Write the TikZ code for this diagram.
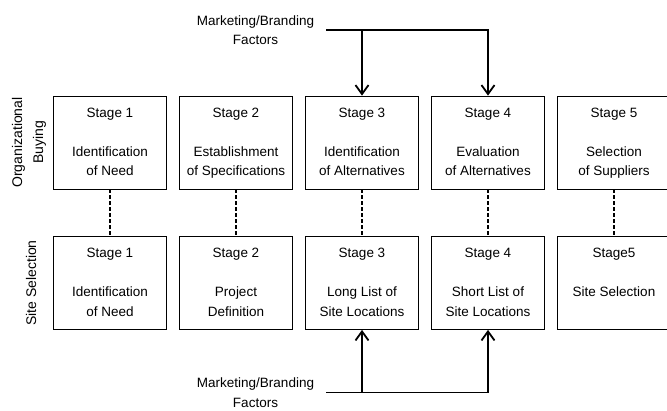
\documentclass[tikz,border=0pt]{standalone}
\usepackage{fontspec}
\setmainfont{Liberation Sans}
\usetikzlibrary{arrows.meta, positioning, calc}

\begin{document}
\begin{tikzpicture}[x=1pt, y=-1pt, font=\fontsize{13.5}{19.5}\selectfont,
    stagebox/.style={draw, line width=0.8pt, minimum width=113pt, minimum height=93pt, inner sep=0pt},
    stagetext/.style={align=center, anchor=north, inner sep=0pt, yshift=-12pt},
    linkdash/.style={line width=1.8pt, dash pattern=on 4pt off 2pt},
    flow/.style={line width=1.8pt, -{Straight Barb[length=9pt, width=13pt, line width=1.8pt]}},
    mktlabel/.style={align=center, inner ysep=0pt, inner xsep=12pt},
    rowlabel/.style={align=center, rotate=90, inner sep=0pt, font=\fontsize{14}{21}\selectfont}]
    \useasboundingbox (0,0) rectangle (667,410);
        \foreach \i/\sa/\sb/\db in {
            1/{Identification\\of Need}/{Stage 1}/{Identification\\of Need},
            2/{Establishment\\of Specifications}/{Stage 2}/{Project\\Definition},
            3/{Identification\\of Alternatives}/{Stage 3}/{Long List of\\Site Locations},
            4/{Evaluation\\of Alternatives}/{Stage 4}/{Short List of\\Site Locations},
            5/{Selection\\of Suppliers}/{Stage5}/{Site Selection}}
        {
            \pgfmathsetmacro{\x}{110+(\i-1)*126}
            \node[stagebox] (ob\i) at (\x,142.5) {};
            \node[stagebox] (ss\i) at (\x,283) {};
            \node[stagetext] (obt\i) at (ob\i.north) {Stage \i\\[19.5pt]\sa};
            \node[stagetext] (sst\i) at (ss\i.north) {\sb\\[19.5pt]\db};
            \draw[linkdash] (ob\i) -- (ss\i);
        }
    % row labels
    \node[rowlabel] (oblabel) at (29,142.5) {Organizational\\Buying};
    \node[rowlabel] (sslabel) at (31,283) {Site Selection};
    % marketing / branding inputs
    \node[mktlabel] (mkttop) at (255.5,30) {Marketing/Branding\\Factors};
    \node[mktlabel] (mktbot) at (255.5,392.5) {Marketing/Branding\\Factors};
    \draw[flow] (mkttop.east) -| (ob4.north);
    \draw[flow] (ob3.north |- mkttop.east) -- (ob3.north);
    \draw[flow] (mktbot.east) -| (ss4.south);
    \draw[flow] (ss3.south |- mktbot.east) -- (ss3.south);
\end{tikzpicture}
\end{document}
